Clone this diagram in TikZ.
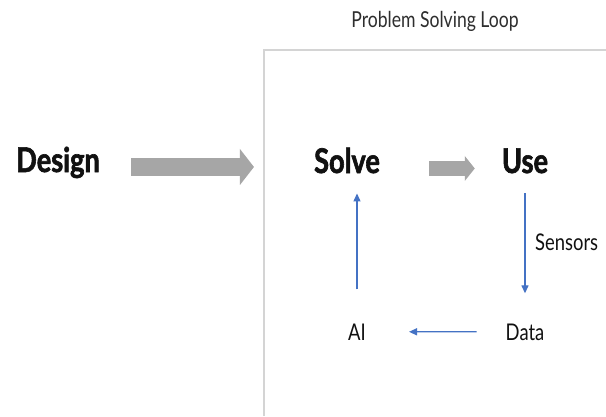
\documentclass[tikz,border=0pt]{standalone}
\usepackage{fontspec}
\setmainfont{Lato}[FakeStretch=0.8]
\newfontfamily\heavyfont{Lato}[FakeStretch=0.8, BoldFeatures={FakeBold=1.8}]
\usetikzlibrary{arrows.meta}
\definecolor{flowblue}{HTML}{4472C4}
\definecolor{blockgray}{HTML}{A6A6A6}
\definecolor{framegray}{HTML}{D4D4D4}
\definecolor{ink}{HTML}{111111}
\definecolor{titleink}{HTML}{2E2E2E}
\begin{document}
\begin{tikzpicture}[x=1pt,y=-1pt,
  bigword/.style={font=\heavyfont\fontsize{34}{38}\selectfont\bfseries, text=ink, inner sep=0pt, anchor=base},
  smallword/.style={font=\fontsize{23}{27}\selectfont, text=ink, inner sep=0pt, anchor=base},
  titleword/.style={font=\fontsize{22}{26}\selectfont, text=titleink, inner sep=0pt, anchor=base},
  flow/.style={draw=flowblue, line width=1.3pt, -{Triangle[width=7pt,length=8pt]}},
  block/.style={draw=blockgray, -{Triangle[width=36pt,length=14pt,line width=0pt]}},
]
\useasboundingbox (0,0) rectangle (606,416);
\fill[white] (0,0) rectangle (606,416);
\draw[framegray, line width=1.5pt] (264,416) -- (264,50) -- (606,50);

\node[titleword] (title) at (435,27) {Problem Solving Loop};
\node[bigword] (Design) at (58,172) {Design};
\node[bigword] (Solve) at (347,173) {Solve};
\node[bigword] (Use) at (525,173) {Use};
\node[smallword, anchor=base west] (Sensors) at (535,250) {Sensors};
\node[smallword] (AI) at (357,340) {AI};
\node[smallword] (Data) at (525,340) {Data};

\draw[block, line width=18pt, shorten <=31pt, shorten >=60pt] ([yshift=2.5pt]Design.mid east) -- ([yshift=2.5pt]Design.mid east -| Solve.west);
\draw[block, line width=15pt, -{Triangle[width=25pt,length=10pt,line width=0pt]}, shorten <=49pt, shorten >=27pt] ([yshift=2pt]Solve.mid east) -- ([yshift=2pt]Solve.mid east -| Use.west);

\draw[flow, shorten <=34pt, shorten >=20pt] (AI.north) -- (AI.north |- Solve.south);
\draw[flow, shorten <=20pt, shorten >=30pt] (Use.south) -- (Data.north);
\draw[flow, shorten <=29pt, shorten >=43pt] (Data.west) -- (AI.east);
\end{tikzpicture}
\end{document}
